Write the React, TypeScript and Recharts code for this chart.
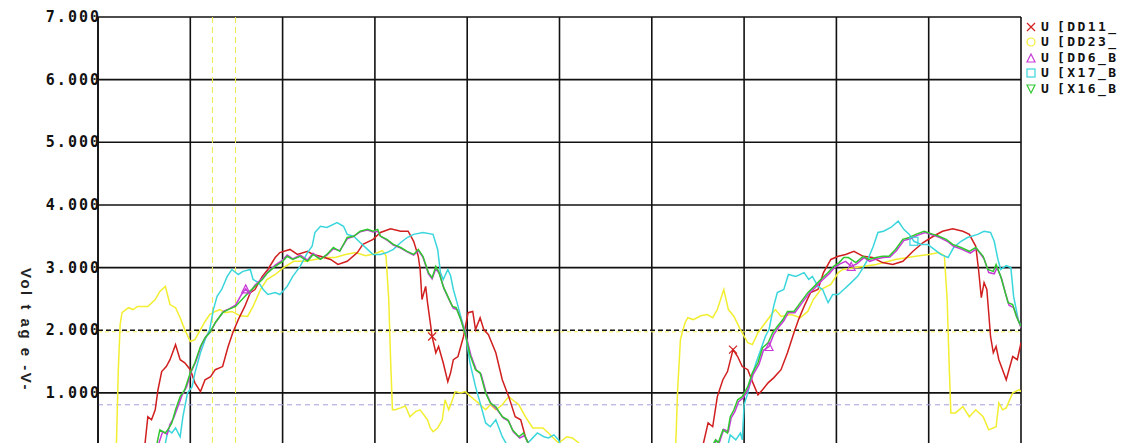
import React from 'react';
import { LineChart, Line, XAxis, YAxis, CartesianGrid, ReferenceLine } from 'recharts';

// time in ns (10 divisions), voltage in V
const T_TICKS = [0, 1, 2, 3, 4, 5, 6, 7, 8, 9, 10];
const V_TICKS = [1, 2, 3, 4, 5, 6, 7];
const GRID_V = [1, 3, 4, 5, 6, 7];

const DD11: [number, number][] = [
  [0.0, 0.0], [0.45, 0.1], [0.51, 0.2], [0.54, 0.62], [0.58, 0.57], [0.62, 0.73], [0.65, 1.05], [0.69, 1.34],
  [0.74, 1.42], [0.78, 1.53], [0.84, 1.77], [0.89, 1.53], [0.94, 1.48], [1.0, 1.37], [1.05, 1.16], [1.11, 1.02],
  [1.16, 1.21], [1.22, 1.26], [1.27, 1.37], [1.35, 1.42], [1.41, 1.74], [1.46, 1.96], [1.52, 2.17], [1.59, 2.38],
  [1.65, 2.6], [1.7, 2.65], [1.78, 2.86], [1.84, 2.97], [1.92, 3.16], [1.97, 3.24], [2.08, 3.29], [2.16, 3.21],
  [2.27, 3.26], [2.33, 3.21], [2.41, 3.18], [2.52, 3.13], [2.6, 3.05], [2.7, 3.1], [2.81, 3.24], [2.87, 3.37],
  [2.98, 3.45], [3.06, 3.56], [3.17, 3.62], [3.28, 3.58], [3.36, 3.58], [3.42, 3.42], [3.47, 3.18], [3.49, 2.97],
  [3.51, 2.49], [3.55, 2.7], [3.57, 2.44], [3.6, 2.12], [3.62, 1.9], [3.66, 1.64], [3.69, 1.74], [3.74, 1.48],
  [3.79, 1.18], [3.82, 1.32], [3.85, 1.53], [3.9, 1.58], [3.96, 1.9], [4.01, 2.28], [4.06, 2.3], [4.09, 2.01],
  [4.14, 2.2], [4.18, 2.01], [4.23, 1.93], [4.31, 1.64], [4.38, 1.21], [4.45, 0.94], [4.52, 0.62], [4.58, 0.57],
  [4.63, 0.3], [4.69, 0.1], [6.53, 0.0], [6.56, 0.2], [6.61, 0.52], [6.66, 0.46], [6.71, 0.94], [6.77, 1.21],
  [6.82, 1.34], [6.88, 1.69], [6.93, 1.58], [6.98, 1.42], [7.04, 1.37], [7.09, 1.18], [7.15, 0.97], [7.2, 1.05],
  [7.26, 1.16], [7.32, 1.24], [7.4, 1.37], [7.47, 1.64], [7.54, 1.96], [7.59, 2.17], [7.65, 2.38], [7.72, 2.6],
  [7.8, 2.65], [7.86, 2.92], [7.94, 3.13], [8.02, 3.18], [8.1, 3.21], [8.19, 3.26], [8.29, 3.18], [8.39, 3.16],
  [8.5, 3.08], [8.61, 3.05], [8.72, 3.1], [8.83, 3.26], [8.94, 3.4], [9.05, 3.5], [9.15, 3.58], [9.26, 3.62],
  [9.37, 3.58], [9.44, 3.53], [9.51, 3.34], [9.54, 2.97], [9.57, 2.52], [9.6, 2.76], [9.63, 2.65], [9.65, 2.28],
  [9.67, 1.9], [9.7, 1.64], [9.73, 1.74], [9.76, 1.53], [9.8, 1.37], [9.84, 1.21], [9.87, 1.37], [9.91, 1.58],
  [9.96, 1.53], [10.0, 1.8],
];

const DD23: [number, number][] = [
  [0.0, 0.0], [0.18, 0.0], [0.2, 0.2], [0.22, 1.37], [0.24, 2.09], [0.26, 2.28], [0.33, 2.36], [0.38, 2.33],
  [0.43, 2.38], [0.54, 2.38], [0.62, 2.49], [0.67, 2.62], [0.73, 2.7], [0.78, 2.41], [0.84, 2.36], [0.89, 2.2],
  [0.94, 2.01], [1.0, 1.82], [1.05, 1.85], [1.11, 2.01], [1.16, 2.14], [1.21, 2.25], [1.27, 2.3], [1.32, 2.33],
  [1.38, 2.28], [1.45, 2.3], [1.54, 2.23], [1.62, 2.22], [1.68, 2.38], [1.76, 2.65], [1.83, 2.81], [1.92, 2.89],
  [2.01, 3.0], [2.12, 3.1], [2.25, 3.1], [2.35, 3.13], [2.46, 3.16], [2.57, 3.16], [2.68, 3.21], [2.79, 3.24],
  [2.9, 3.19], [3.0, 3.22], [3.08, 3.27], [3.12, 3.19], [3.15, 2.49], [3.17, 1.53], [3.19, 0.73], [3.22, 0.73],
  [3.28, 0.76], [3.33, 0.79], [3.38, 0.62], [3.44, 0.7], [3.49, 0.73], [3.57, 0.57], [3.6, 0.44], [3.63, 0.38],
  [3.68, 0.44], [3.73, 0.57], [3.76, 0.89], [3.8, 0.73], [3.84, 0.89], [3.87, 1.02], [3.93, 1.0], [3.98, 1.02],
  [4.03, 0.95], [4.12, 0.84], [4.2, 0.73], [4.25, 0.81], [4.31, 0.73], [4.38, 0.81], [4.45, 0.94], [4.49, 0.89],
  [4.56, 0.81], [4.63, 0.62], [4.71, 0.44], [4.82, 0.44], [4.88, 0.36], [4.92, 0.3], [4.99, 0.2], [5.08, 0.3],
  [5.14, 0.28], [5.21, 0.2], [5.28, 0.0], [6.2, 0.0], [6.26, 0.2], [6.28, 1.05], [6.31, 1.85], [6.33, 1.96],
  [6.36, 2.12], [6.39, 2.2], [6.45, 2.17], [6.53, 2.23], [6.6, 2.25], [6.66, 2.2], [6.71, 2.33], [6.78, 2.65],
  [6.83, 2.33], [6.89, 2.22], [6.96, 2.01], [7.04, 1.8], [7.09, 1.77], [7.15, 1.96], [7.23, 2.12], [7.31, 2.28],
  [7.34, 2.33], [7.4, 2.22], [7.51, 2.25], [7.61, 2.2], [7.69, 2.3], [7.75, 2.49], [7.83, 2.65], [7.94, 2.73],
  [8.02, 2.92], [8.07, 2.97], [8.21, 3.0], [8.43, 3.05], [8.64, 3.13], [8.86, 3.18], [9.0, 3.21], [9.11, 3.24],
  [9.17, 3.19], [9.2, 2.49], [9.22, 1.53], [9.24, 0.68], [9.29, 0.68], [9.37, 0.78], [9.44, 0.62], [9.51, 0.73],
  [9.59, 0.62], [9.65, 0.41], [9.73, 0.46], [9.76, 0.84], [9.8, 0.73], [9.84, 0.76], [9.91, 1.0], [9.98, 1.05],
  [10.0, 1.02],
];

const DD6: [number, number][] = [
  [0.0, 0.0], [0.6, 0.0], [0.66, 0.2], [0.7, 0.38], [0.75, 0.34], [0.78, 0.5], [0.82, 0.6], [0.86, 0.76],
  [0.91, 0.96], [0.96, 1.1], [1.01, 1.34], [1.06, 1.5], [1.12, 1.76], [1.17, 1.9], [1.22, 1.98], [1.28, 2.14],
  [1.36, 2.3], [1.42, 2.34], [1.49, 2.4], [1.55, 2.56], [1.6, 2.66], [1.64, 2.58], [1.7, 2.72], [1.78, 2.83],
  [1.84, 2.93], [1.92, 3.04], [2.0, 3.12], [2.05, 3.2], [2.11, 3.14], [2.19, 3.2], [2.27, 3.12], [2.33, 3.23],
  [2.41, 3.14], [2.48, 3.2], [2.55, 3.3], [2.62, 3.27], [2.7, 3.46], [2.77, 3.5], [2.84, 3.57], [2.92, 3.6],
  [2.98, 3.57], [3.03, 3.58], [3.06, 3.5], [3.13, 3.44], [3.2, 3.36], [3.28, 3.31], [3.35, 3.25], [3.42, 3.2],
  [3.47, 3.27], [3.52, 3.17], [3.58, 2.9], [3.62, 2.82], [3.66, 2.98], [3.7, 2.9], [3.75, 2.66], [3.8, 2.5],
  [3.85, 2.35], [3.89, 2.33], [3.94, 2.14], [3.99, 1.9], [4.04, 1.6], [4.1, 1.36], [4.15, 1.3], [4.21, 0.98],
  [4.26, 0.82], [4.32, 0.74], [4.39, 0.6], [4.45, 0.55], [4.5, 0.38], [4.57, 0.28], [4.62, 0.32], [4.67, 0.18],
  [4.75, 0.0], [6.6, 0.0], [6.7, 0.24], [6.73, 0.2], [6.78, 0.42], [6.83, 0.38], [6.86, 0.6], [6.9, 0.7],
  [6.94, 0.86], [6.99, 0.92], [7.05, 1.08], [7.1, 1.3], [7.16, 1.45], [7.21, 1.68], [7.27, 1.74], [7.32, 1.93],
  [7.37, 2.04], [7.43, 2.15], [7.48, 2.28], [7.55, 2.28], [7.62, 2.42], [7.7, 2.58], [7.77, 2.68], [7.84, 2.79],
  [7.92, 2.9], [7.98, 3.0], [8.04, 3.06], [8.1, 3.1], [8.16, 3.02], [8.22, 3.06], [8.3, 3.16], [8.36, 3.1],
  [8.44, 3.14], [8.51, 3.16], [8.58, 3.17], [8.65, 3.27], [8.73, 3.43], [8.8, 3.46], [8.87, 3.51], [8.96, 3.56],
  [9.06, 3.51], [9.12, 3.48], [9.2, 3.42], [9.27, 3.34], [9.36, 3.29], [9.45, 3.23], [9.52, 3.3], [9.6, 3.14],
  [9.65, 2.92], [9.71, 2.9], [9.74, 3.0], [9.79, 2.82], [9.83, 2.6], [9.87, 2.4], [9.92, 2.36], [9.96, 2.2],
  [10.0, 2.04],
];

const X17: [number, number][] = [
  [0.0, 0.0], [0.7, 0.0], [0.73, 0.2], [0.76, 0.41], [0.8, 0.36], [0.84, 0.44], [0.89, 0.3], [0.92, 0.62],
  [0.97, 1.0], [1.02, 1.1], [1.05, 1.32], [1.11, 1.64], [1.16, 1.85], [1.21, 2.01], [1.25, 2.33], [1.29, 2.54],
  [1.34, 2.65], [1.4, 2.86], [1.45, 2.97], [1.52, 2.89], [1.57, 2.94], [1.65, 2.97], [1.68, 2.81], [1.74, 2.76],
  [1.79, 2.65], [1.84, 2.57], [1.92, 2.6], [1.97, 2.57], [2.05, 2.7], [2.11, 2.86], [2.19, 3.02], [2.27, 3.24],
  [2.32, 3.34], [2.35, 3.56], [2.41, 3.66], [2.48, 3.64], [2.59, 3.72], [2.66, 3.66], [2.7, 3.53], [2.77, 3.5],
  [2.84, 3.4], [2.92, 3.29], [2.98, 3.21], [3.06, 3.21], [3.13, 3.24], [3.2, 3.29], [3.28, 3.4], [3.35, 3.48],
  [3.42, 3.53], [3.52, 3.56], [3.63, 3.53], [3.68, 3.29], [3.71, 2.92], [3.74, 2.81], [3.79, 2.97], [3.82, 2.87],
  [3.85, 2.65], [3.89, 2.44], [3.93, 2.22], [3.98, 1.96], [4.03, 1.48], [4.09, 1.1], [4.14, 0.84], [4.2, 0.52],
  [4.25, 0.46], [4.31, 0.57], [4.38, 0.3], [4.45, 0.12], [4.58, 0.1], [4.69, 0.25], [4.76, 0.36], [4.83, 0.3],
  [4.88, 0.28], [4.94, 0.33], [4.99, 0.25], [5.03, 0.1], [6.8, 0.0], [6.85, 0.33], [6.91, 0.25], [6.96, 0.36],
  [6.98, 0.25], [7.0, 0.81], [7.04, 1.0], [7.07, 1.21], [7.13, 1.48], [7.18, 1.69], [7.23, 1.9], [7.27, 2.01],
  [7.32, 2.38], [7.36, 2.6], [7.43, 2.65], [7.48, 2.89], [7.56, 2.86], [7.65, 2.92], [7.7, 2.81], [7.74, 2.86],
  [7.8, 2.7], [7.85, 2.65], [7.91, 2.44], [7.96, 2.57], [8.02, 2.57], [8.08, 2.65], [8.16, 2.76], [8.23, 2.86],
  [8.29, 3.0], [8.34, 3.13], [8.4, 3.34], [8.45, 3.56], [8.51, 3.58], [8.59, 3.64], [8.67, 3.74], [8.73, 3.61],
  [8.79, 3.53], [8.84, 3.42], [8.92, 3.37], [8.99, 3.37], [9.06, 3.29], [9.13, 3.21], [9.21, 3.16], [9.27, 3.32],
  [9.35, 3.42], [9.42, 3.48], [9.53, 3.53], [9.6, 3.58], [9.67, 3.56], [9.71, 3.42], [9.75, 3.13], [9.78, 2.97],
  [9.84, 3.03], [9.89, 3.0], [9.92, 2.54], [9.97, 2.17], [10.0, 2.06],
];

const X16: [number, number][] = [
  [0.0, 0.0], [0.6, 0.0], [0.64, 0.2], [0.67, 0.41], [0.73, 0.36], [0.77, 0.44], [0.8, 0.52], [0.84, 0.73],
  [0.89, 0.94], [0.94, 1.05], [1.0, 1.32], [1.05, 1.48], [1.11, 1.74], [1.16, 1.88], [1.21, 1.96], [1.27, 2.12],
  [1.35, 2.28], [1.41, 2.33], [1.49, 2.38], [1.56, 2.49], [1.63, 2.6], [1.7, 2.7], [1.78, 2.81], [1.84, 2.92],
  [1.92, 3.02], [2.0, 3.1], [2.05, 3.18], [2.11, 3.13], [2.19, 3.18], [2.27, 3.1], [2.33, 3.21], [2.41, 3.13],
  [2.48, 3.21], [2.55, 3.32], [2.62, 3.26], [2.7, 3.48], [2.77, 3.5], [2.84, 3.58], [2.92, 3.61], [2.98, 3.58],
  [3.03, 3.61], [3.06, 3.5], [3.13, 3.45], [3.2, 3.37], [3.28, 3.32], [3.35, 3.26], [3.42, 3.21], [3.47, 3.29],
  [3.52, 3.18], [3.58, 2.92], [3.62, 2.84], [3.66, 3.02], [3.69, 2.94], [3.74, 2.7], [3.79, 2.54], [3.84, 2.38],
  [3.88, 2.36], [3.93, 2.17], [3.98, 1.93], [4.03, 1.61], [4.09, 1.37], [4.14, 1.32], [4.2, 1.0], [4.25, 0.84],
  [4.31, 0.78], [4.38, 0.62], [4.44, 0.57], [4.49, 0.41], [4.56, 0.3], [4.61, 0.36], [4.66, 0.2], [4.74, 0.0],
  [6.6, 0.0], [6.69, 0.25], [6.72, 0.2], [6.77, 0.41], [6.82, 0.36], [6.85, 0.62], [6.89, 0.73], [6.93, 0.89],
  [6.98, 0.94], [7.04, 1.1], [7.09, 1.32], [7.15, 1.48], [7.2, 1.72], [7.26, 1.8], [7.31, 1.96], [7.36, 2.06],
  [7.42, 2.17], [7.47, 2.3], [7.54, 2.3], [7.61, 2.44], [7.69, 2.6], [7.76, 2.7], [7.83, 2.81], [7.91, 2.92],
  [7.97, 3.02], [8.03, 3.08], [8.08, 3.16], [8.13, 3.16], [8.21, 3.08], [8.29, 3.18], [8.35, 3.13], [8.43, 3.16],
  [8.5, 3.18], [8.57, 3.18], [8.64, 3.29], [8.72, 3.45], [8.79, 3.48], [8.86, 3.53], [8.95, 3.58], [9.05, 3.53],
  [9.11, 3.5], [9.19, 3.45], [9.26, 3.37], [9.35, 3.32], [9.44, 3.26], [9.51, 3.32], [9.59, 3.18], [9.64, 2.97],
  [9.7, 2.94], [9.73, 3.05], [9.78, 2.86], [9.82, 2.65], [9.86, 2.44], [9.91, 2.41], [9.95, 2.22], [10.0, 2.06],
];

// symbol markers placed on some samples (time values)
const DD11_MARKS = [3.62, 6.88];
const DD6_MARKS = [1.6, 7.27, 8.16];
const X17_MARKS = [8.84];

type Shape = 'x' | 'circle' | 'tri' | 'square' | 'triDown';

const SERIES = [
  { key: 'dd23', name: '[DD23_', color: '#f2ee30', shape: 'circle' as Shape, data: DD23, marks: [] as number[] },
  { key: 'dd11', name: '[DD11_', color: '#d11f1f', shape: 'x' as Shape, data: DD11, marks: DD11_MARKS },
  { key: 'x17', name: '[X17_B', color: '#3ad6dc', shape: 'square' as Shape, data: X17, marks: X17_MARKS },
  { key: 'dd6', name: '[DD6_B', color: '#c83ad8', shape: 'tri' as Shape, data: DD6, marks: DD6_MARKS },
  { key: 'x16', name: '[X16_B', color: '#30c830', shape: 'triDown' as Shape, data: X16, marks: [] as number[] },
];
const LEGEND_ORDER = ['dd11', 'dd23', 'dd6', 'x17', 'x16'];

const Marker = ({ shape, x, y, color, s = 4 }: { shape: Shape; x: number; y: number; color: string; s?: number }) => {
  const p = { fill: 'none', stroke: color, strokeWidth: 1.2 };
  if (shape === 'x')
    return <path d={`M${x - s},${y - s}L${x + s},${y + s}M${x - s},${y + s}L${x + s},${y - s}`} {...p} />;
  if (shape === 'circle') return <circle cx={x} cy={y} r={s} {...p} />;
  if (shape === 'square') return <rect x={x - s} y={y - s} width={2 * s} height={2 * s} {...p} />;
  if (shape === 'tri') return <path d={`M${x},${y - s}L${x + s},${y + s}L${x - s},${y + s}Z`} {...p} />;
  return <path d={`M${x - s},${y - s}L${x + s},${y - s}L${x},${y + s}Z`} {...p} />;
};

const makeDot = (shape: Shape, color: string, marks: number[]) => (props: any) => {
  const { cx, cy, payload, index } = props;
  if (!marks.includes(payload.t) || cx == null || cy == null) return <g key={index} />;
  return (
    <g key={index}>
      <Marker shape={shape} x={cx} y={cy} color={color} />
    </g>
  );
};

const mono = "'DejaVu Sans Mono', 'Liberation Mono', monospace";

const VoltTick = ({ x, y, payload }: any) => (
  <text x={x + 3} y={y + 5} textAnchor="end" fontFamily={mono} fontWeight="bold" fontSize={15} letterSpacing={2} fill="#111">
    {Number(payload.value).toFixed(3)}
  </text>
);

const AxisTitle = () => (
  <text
    transform="translate(21, 330) rotate(90)"
    textAnchor="middle"
    fontFamily="'Liberation Sans', Arial, sans-serif"
    fontWeight="bold"
    fontSize={15}
    letterSpacing={2.5}
    fill="#222"
  >
    Vol t ag e -V-
  </text>
);

export default function App() {
  const lines = SERIES.map((s) => ({ ...s, pts: s.data.map(([t, v]) => ({ t, v })) }));
  const legendText = { fontFamily: mono, fontWeight: 'bold' as const, fontSize: 13, lineHeight: '15px', color: '#111' };
  return (
    <div style={{ position: 'absolute', left: 0, top: 0, width: 1127, height: 443, background: '#fff', overflow: 'hidden' }}>
      <LineChart width={1127} height={443} margin={{ top: 17, right: 106, bottom: 0, left: 0 }}>
        <CartesianGrid stroke="#111" strokeWidth={1.6} horizontalValues={GRID_V} verticalValues={T_TICKS} />
        <XAxis type="number" dataKey="t" domain={[0, 10]} ticks={T_TICKS} hide allowDataOverflow />
        <YAxis
          type="number"
          dataKey="v"
          domain={[0.2, 7]}
          ticks={V_TICKS}
          allowDataOverflow
          width={98}
          tickLine={false}
          tickSize={0}
          tickMargin={0}
          axisLine={{ stroke: '#111', strokeWidth: 1.6 }}
          tick={<VoltTick />}
          label={<AxisTitle />}
        />
        <ReferenceLine x={1.24} stroke="#f0ea50" strokeDasharray="6 4" />
        <ReferenceLine x={1.49} stroke="#f0ea50" strokeDasharray="6 4" />
        <ReferenceLine y={1.975} stroke="#f3ee60" strokeDasharray="4 3" />
        <ReferenceLine y={2} stroke="#111" strokeWidth={1.3} strokeDasharray="5 3" />
        <ReferenceLine y={0.81} stroke="#a0a0d8" strokeDasharray="5 4" />
        {lines.map((s) => (
          <Line
            key={s.key}
            data={s.pts}
            dataKey="v"
            type="linear"
            stroke={s.color}
            strokeWidth={1.5}
            dot={makeDot(s.shape, s.color, s.marks)}
            activeDot={false}
            isAnimationActive={false}
          />
        ))}
      </LineChart>
      <div style={{ position: 'absolute', left: 1024, top: 19, width: 103 }}>
        {LEGEND_ORDER.map((k) => {
          const s = SERIES.find((e) => e.key === k)!;
          return (
            <div key={k} style={{ position: 'relative', height: 15.4, whiteSpace: 'nowrap' }}>
              <svg width={14} height={14} style={{ position: 'absolute', left: 0, top: 1 }}>
                <Marker shape={s.shape} x={7} y={7} color={s.color} />
              </svg>
              <span style={{ ...legendText, position: 'absolute', left: 17, top: 0 }}>U</span>
              <span style={{ ...legendText, position: 'absolute', left: 33, top: 0, letterSpacing: 2.4 }}>{s.name}</span>
            </div>
          );
        })}
      </div>
    </div>
  );
}
